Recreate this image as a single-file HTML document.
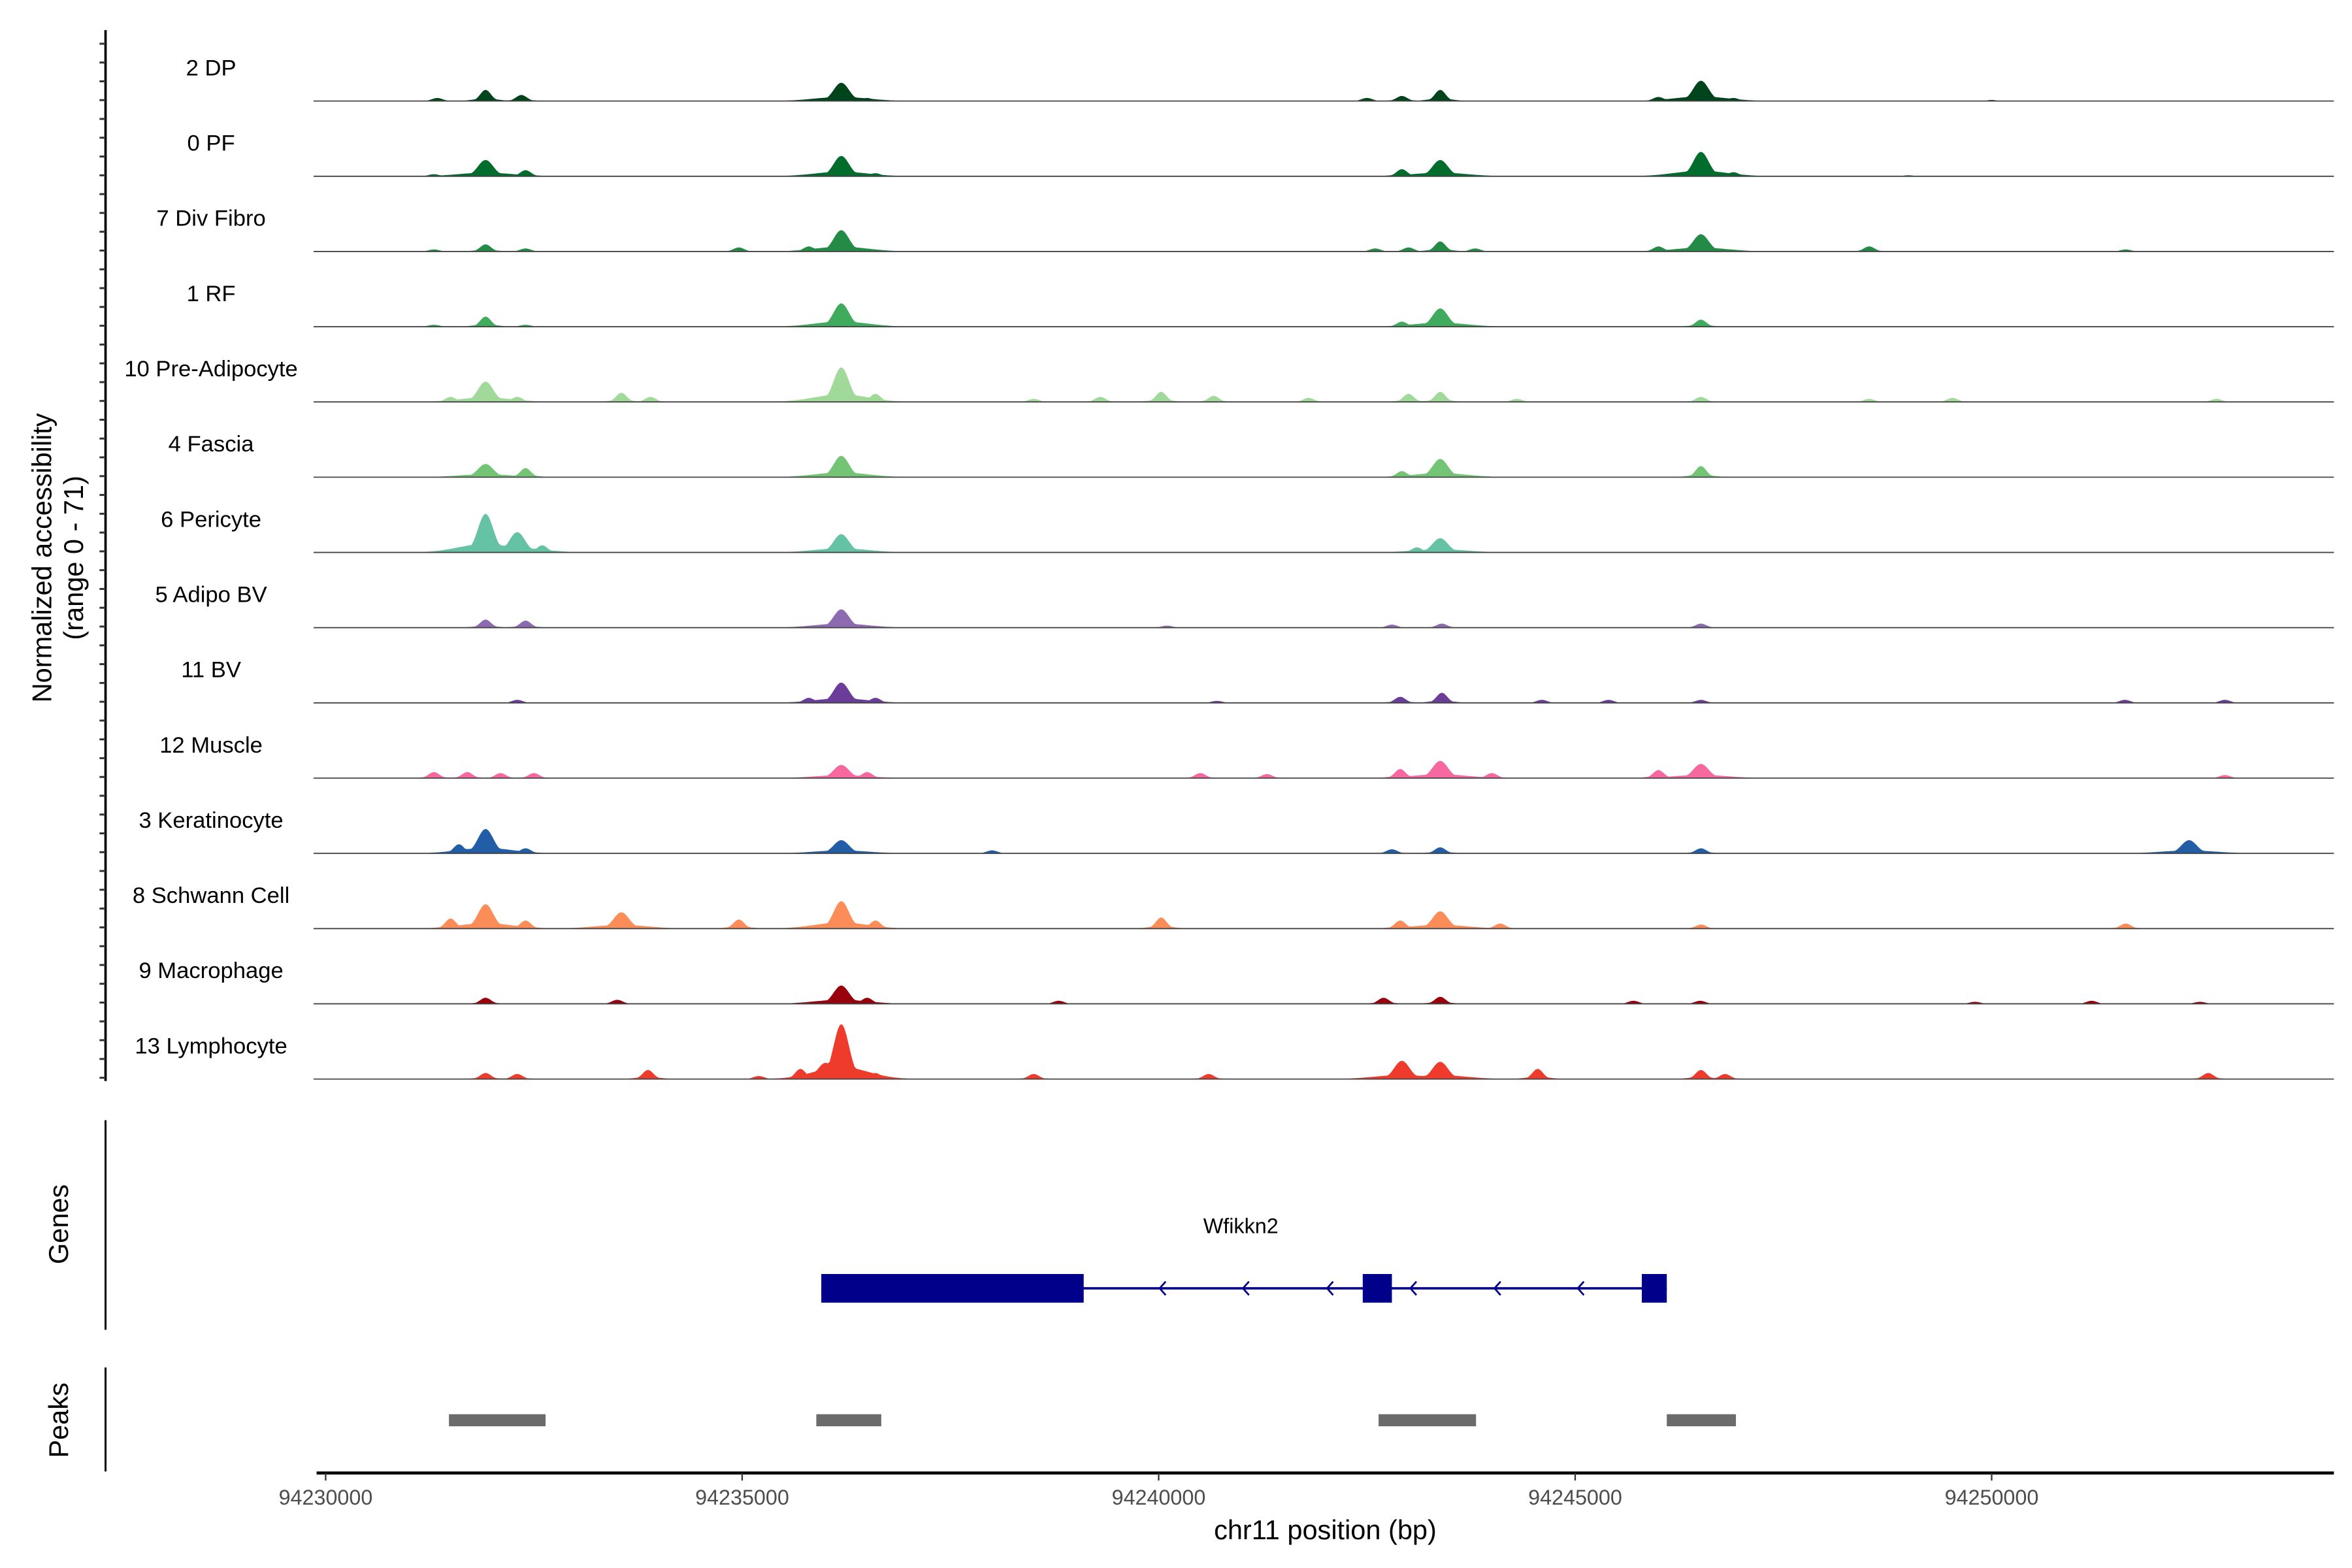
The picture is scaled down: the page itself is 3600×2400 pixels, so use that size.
<!DOCTYPE html>
<html><head><meta charset="utf-8"><style>
html,body{margin:0;padding:0;background:#fff;}
svg{display:block;font-family:"Liberation Sans",Arial,sans-serif;}
</style></head><body>
<svg id="chart" width="3600" height="2400" viewBox="0 0 1560 1040" xmlns="http://www.w3.org/2000/svg">
<g id="tracks"></g>
<g id="axes"></g>
</svg>
<script>
// Data (positions in kb offset from 94230000; heights in accessibility units, range 0-71)
const trackNames = ["2 DP","0 PF","7 Div Fibro","1 RF","10 Pre-Adipocyte","4 Fascia","6 Pericyte","5 Adipo BV","11 BV","12 Muscle","3 Keratinocyte","8 Schwann Cell","9 Macrophage","13 Lymphocyte"];
const trackColors = ["#00441b","#006d2c","#238b45","#41ab5d","#a1d99b","#74c476","#66c2a4","#8c6bb1","#6a3d9a","#f768a1","#225ea8","#fc8d59","#99000d","#ef3b2c"];
const peakPos = [
 [1.34,1.92,2.35,6.19,6.5,12.5,12.92,13.38,16.0,16.51,16.9,20.0],
 [1.3,1.92,2.4,6.19,6.6,12.92,13.38,16.51,16.9,19.0],
 [1.3,1.92,2.4,4.96,5.8,6.19,12.6,13.0,13.38,13.8,16.0,16.51,18.53,21.61],
 [1.3,1.92,2.4,6.19,12.92,13.38,16.51],
 [1.5,1.92,2.3,3.55,3.9,6.19,6.6,8.5,9.3,10.03,10.66,11.8,13.0,13.38,14.3,16.51,18.53,19.53,22.7],
 [1.92,2.4,6.19,12.92,13.38,16.51],
 [1.92,2.3,2.6,6.19,13.1,13.38],
 [1.92,2.4,6.19,10.1,12.8,13.4,16.51],
 [2.3,5.8,6.19,6.6,10.7,12.9,13.4,14.6,15.4,16.51,21.6,22.8],
 [1.3,1.7,2.1,2.5,6.19,6.5,10.5,11.3,12.9,13.38,14.0,16.0,16.51,22.8],
 [1.6,1.92,2.4,6.19,8.0,12.8,13.38,16.51,22.37],
 [1.5,1.92,2.4,3.55,4.96,6.19,6.6,10.03,12.9,13.38,14.1,16.51,21.61],
 [1.92,3.5,6.19,6.5,8.8,12.7,13.38,15.7,16.5,19.8,21.2,22.5],
 [1.92,2.3,3.87,5.2,5.7,6.0,6.19,6.6,8.5,10.6,12.92,13.38,14.55,16.51,16.8,22.6]
];
const peakVals = [
 [3,11,6,18,3,3,5,11,4,20,3,1],
 [2,16,6,20,3,7,16,24,4,1],
 [2,7,3,4,5,21,3,4,10,3,5,17,5,2],
 [2,10,2,23,5,18,7],
 [5,20,5,9,5,34,8,3,5,10,6,4,8,10,3,5,3,4,3],
 [13,9,21,6,18,11],
 [38,20,7,18,5,14],
 [8,7,18,2,3,4,4],
 [3,5,20,5,2,6,10,3,3,3,3,3],
 [6,6,5,5,13,6,5,4,9,17,5,8,14,3],
 [9,24,5,13,3,4,6,5,13],
 [10,24,8,16,9,27,8,11,8,17,5,4,5],
 [6,4,18,6,3,6,7,3,3,2,3,2],
 [6,5,9,3,10,16,54,6,5,5,18,17,10,9,5,6]
];
const xTicks = [94230000,94235000,94240000,94245000,94250000];
const xTickLabels = ["94230000","94235000","94240000","94245000","94250000"];
const geneExons = [[5.95,9.1],[12.45,12.8],[15.8,16.1]];
const geneSpan = [5.95,16.1];
const peakRegions = [[1.48,2.64],[5.89,6.67],[12.64,13.81],[16.1,16.93]];

const NS="http://www.w3.org/2000/svg";
const tracksG=document.getElementById('tracks');
const axesG=document.getElementById('axes');
function mk(tag,attrs,parent){const e=document.createElementNS(NS,tag);for(const k in attrs)e.setAttribute(k,attrs[k]);parent.appendChild(e);return e;}
const X0=94230000;
function xKb(kb){return 216+kb*55.25;}
function xBp(bp){return xKb((bp-X0)/1000);}
const trackTop=67, trackStep=49.9, trackH=48, yMax=71;
function yVal(i,v){return trackTop+i*trackStep - v/yMax*trackH;}

// y axis
let ya=mk('line',{x1:70,y1:20,x2:70,y2:717,stroke:'#000','stroke-width':1.6},axesG);

for(let y=29;y<=717;y+=12.47){let t=mk('line',{x1:66,y1:y,x2:70,y2:y,stroke:'#333','stroke-width':1.3},axesG);
}
let yt=mk('text',{x:0,y:0,transform:'translate(34,370) rotate(-90)','text-anchor':'middle','font-size':18},axesG);

mk('tspan',{x:0,dy:0},yt).textContent='Normalized accessibility';
mk('tspan',{x:0,dy:21},yt).textContent='(range 0 - 71)';

// tracks
for(let i=0;i<trackNames.length;i++){
  const g=mk('g',{},tracksG);
  
  
  let d='M'+xKb(1.0)+','+yVal(i,0);
  for(let kb=1.0;kb<=23.3;kb+=0.025){
    let v=0;
    for(let j=0;j<peakPos[i].length;j++){
      const h=peakVals[i][j];
      const w=h>12?0.13:0.09;
      const dd=kb-peakPos[i][j];
      const z=dd/w, zb=dd/(h>12?0.45:0.2);
      v=Math.max(v,h*Math.exp(-z*z), h*0.22*Math.exp(-zb*zb));
    }
    if(v<0.5)v=0;
    d+=' L'+xKb(kb).toFixed(2)+','+yVal(i,v).toFixed(2);
  }
  d+=' L'+xKb(23.3)+','+yVal(i,0)+' Z';
  const a=mk('path',{d:d,fill:trackColors[i]},g);
  
  const b=mk('line',{x1:208,x2:1548,y1:yVal(i,0),y2:yVal(i,0),stroke:'#444','stroke-width':0.8},g);
  
  const l=mk('text',{x:140,y:yVal(i,0)-17,'text-anchor':'middle','font-size':15},g);
  
  l.textContent=trackNames[i];
}

// genes panel
let gl=mk('line',{x1:70,y1:743,x2:70,y2:882,stroke:'#000','stroke-width':1.3},axesG);

let gt=mk('text',{x:0,y:0,transform:'translate(45,812) rotate(-90)','text-anchor':'middle','font-size':18},axesG);
gt.textContent='Genes';
const geneG=mk('g',{},axesG);

mk('line',{x1:xKb(geneSpan[0]),x2:xKb(geneSpan[1]),y1:854.5,y2:854.5,stroke:'#00008b','stroke-width':1.6},geneG);
for(const e of geneExons){let r=mk('rect',{x:xKb(e[0]),y:845,width:xKb(e[1])-xKb(e[0]),height:19,fill:'#00008b'},geneG);
}
for(const kb of [10.03,11.03,12.04,13.04,14.05,15.05]){const x=xKb(kb);
mk('path',{d:`M${x+3},850 L${x-1},854.5 L${x+3},859`,fill:'none',stroke:'#00008b','stroke-width':1.2},geneG);}
let gn=mk('text',{x:823,y:818,'text-anchor':'middle','font-size':14},geneG);
gn.textContent='Wfikkn2';

// peaks panel
let pl=mk('line',{x1:70,y1:907,x2:70,y2:976,stroke:'#000','stroke-width':1.3},axesG);

let pt=mk('text',{x:0,y:0,transform:'translate(45,942) rotate(-90)','text-anchor':'middle','font-size':18},axesG);
pt.textContent='Peaks';
for(const p of peakRegions){let r=mk('rect',{x:xKb(p[0]),y:938,width:xKb(p[1])-xKb(p[0]),height:8,fill:'#6b6b6b'},axesG);
}

// x axis
let xa=mk('line',{x1:210,y1:977,x2:1548,y2:977,stroke:'#000','stroke-width':2},axesG);

xTicks.forEach((t,k)=>{const x=xBp(t);
 let tk=mk('line',{x1:x,x2:x,y1:977,y2:982,stroke:'#333','stroke-width':1},axesG);
 
 let tl=mk('text',{x:x,y:998,'text-anchor':'middle','font-size':14,fill:'#4d4d4d'},axesG);
 tl.textContent=xTickLabels[k];});
let xt=mk('text',{x:879,y:1021,'text-anchor':'middle','font-size':18},axesG);
xt.textContent='chr11 position (bp)';
</script>
</body></html>
